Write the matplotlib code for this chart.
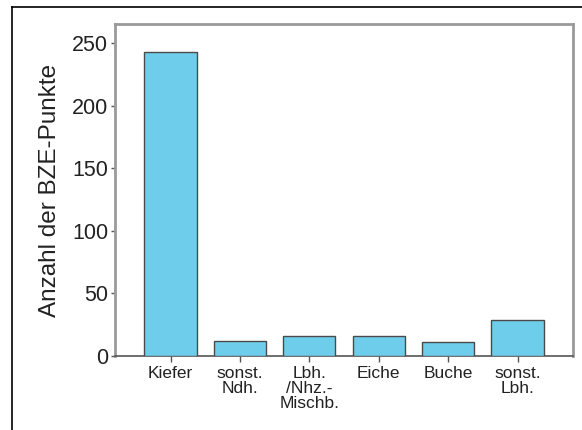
import numpy as np
import matplotlib
matplotlib.use('Agg')
import matplotlib.pyplot as plt
from matplotlib.lines import Line2D

plt.rcParams['font.family'] = ['Liberation Sans', 'DejaVu Sans']

# data
categories = ['Kiefer', 'sonst.\nNdh.', 'Lbh.\n/Nhz.-\nMischb.', 'Eiche', 'Buche', 'sonst.\nLbh.']
counts = [243, 12, 16, 16, 11, 29]
y_ticks = [0, 50, 100, 150, 200, 250]

fig = plt.figure(figsize=(5.82, 4.30), dpi=100)
ax = fig.add_axes([0.1976, 0.172, 0.787, 0.772])

x = np.arange(len(categories))
ax.bar(x, counts, width=0.75, color='#6ECDEB', edgecolor='#4a4a4a', linewidth=1.0, zorder=3)

ax.set_xlim(-0.8, len(categories) - 0.2)
ax.set_ylim(0, 265)
ax.set_yticks(y_ticks)
ax.set_xticks(x)
ax.set_xticklabels(categories, fontsize=12.5, linespacing=1.0, color='#222222')
ax.tick_params(axis='y', labelsize=15.5, length=3, width=1, color='#555555', pad=2,
               labelcolor='#222222')
ax.tick_params(axis='x', length=4, width=1, color='#555555', pad=3)
ax.set_ylabel('Anzahl der BZE-Punkte', fontsize=17.5, labelpad=8, color='#222222')

for s in ax.spines.values():
    s.set_color('#9a9a9a')
    s.set_linewidth(2)
ax.spines['bottom'].set_color('#555555')
ax.spines['bottom'].set_linewidth(1.2)

# outer frame (top and left edge of the cropped figure box)
fig.add_artist(Line2D([12/582, 1.0], [1 - 7/430, 1 - 7/430], color='black', linewidth=1.2))
fig.add_artist(Line2D([12/582, 12/582], [0, 1 - 7/430], color='black', linewidth=1.2))

fig.savefig('out.png', dpi=100)
